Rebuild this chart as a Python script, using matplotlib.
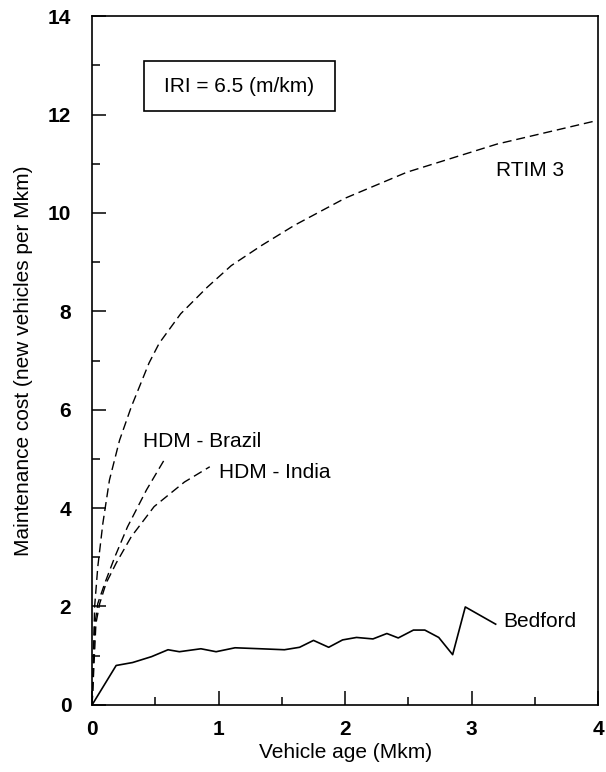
import matplotlib
matplotlib.use("Agg")
import matplotlib.pyplot as plt
from matplotlib.patches import Rectangle
from matplotlib.ticker import MultipleLocator

plt.rcParams["font.family"] = ["Liberation Sans", "DejaVu Sans"]

# Vehicle age (Mkm) vs maintenance cost (new vehicles per Mkm)
RTIM_X = [0.0, 0.02, 0.045, 0.085, 0.137, 0.217, 0.31, 0.45, 0.53, 0.70, 0.91,
          1.10, 1.34, 1.60, 2.00, 2.49, 3.20, 3.96]
RTIM_Y = [0.0, 2.00, 2.81, 3.69, 4.57, 5.38, 6.06, 6.95, 7.35, 7.95, 8.49,
          8.93, 9.34, 9.75, 10.30, 10.83, 11.40, 11.86]

BRAZIL_X = [0.0, 0.02, 0.045, 0.10, 0.18, 0.28, 0.43, 0.577]
BRAZIL_Y = [0.0, 1.60, 2.06, 2.47, 3.01, 3.62, 4.37, 5.01]

INDIA_X = [0.0, 0.03, 0.06, 0.11, 0.19, 0.31, 0.49, 0.73, 0.93]
INDIA_Y = [0.0, 1.65, 2.06, 2.47, 2.88, 3.42, 4.03, 4.53, 4.84]

BEDFORD_X = [0.0, 0.19, 0.32, 0.47, 0.60, 0.69, 0.86, 0.98, 1.13, 1.33, 1.52,
             1.64, 1.75, 1.87, 1.98, 2.09, 2.22, 2.33, 2.42, 2.54, 2.63, 2.74,
             2.85, 2.95, 3.19]
BEDFORD_Y = [0.0, 0.80, 0.86, 0.98, 1.12, 1.08, 1.14, 1.08, 1.16, 1.14, 1.12,
             1.17, 1.31, 1.17, 1.32, 1.37, 1.34, 1.45, 1.36, 1.52, 1.52, 1.37,
             1.02, 1.99, 1.64]

FS = 15

fig = plt.figure(figsize=(6.06, 7.72), dpi=100)
ax = fig.add_axes([0.152, 0.087, 0.835, 0.892])

dash = dict(color="black", linewidth=1.0, linestyle=(0, (6.5, 3.5)))
ax.plot(RTIM_X, RTIM_Y, **dash)
ax.plot(BRAZIL_X, BRAZIL_Y, **dash)
ax.plot(INDIA_X, INDIA_Y, **dash)
ax.plot(BEDFORD_X, BEDFORD_Y, color="black", linewidth=1.2)

ax.text(3.46, 10.86, "RTIM 3", fontsize=FS, ha="center", va="center")
ax.text(0.40, 5.35, "HDM - Brazil", fontsize=FS, ha="left", va="center")
ax.text(1.00, 4.72, "HDM - India", fontsize=FS, ha="left", va="center")
ax.text(3.25, 1.70, "Bedford", fontsize=FS, ha="left", va="center")

ax.add_patch(Rectangle((0.41, 12.08), 1.51, 1.0, fill=False,
                       edgecolor="black", linewidth=1.2))
ax.text(1.165, 12.58, "IRI = 6.5 (m/km)", fontsize=FS, ha="center", va="center")

ax.set_xlim(0, 4)
ax.set_ylim(0, 14)
ax.xaxis.set_major_locator(MultipleLocator(1))
ax.xaxis.set_minor_locator(MultipleLocator(0.5))
ax.yaxis.set_major_locator(MultipleLocator(2))
ax.yaxis.set_minor_locator(MultipleLocator(1))
ax.tick_params(which="both", direction="in", width=1.1)
ax.tick_params(which="major", length=10, labelsize=15)
ax.tick_params(which="minor", length=6)
ax.tick_params(axis="y", which="major", pad=15)
ax.tick_params(axis="x", which="major", pad=11)
for lab in ax.get_xticklabels() + ax.get_yticklabels():
    lab.set_fontweight("bold")

for s in ax.spines.values():
    s.set_linewidth(1.2)

ax.set_xlabel("Vehicle age (Mkm)", fontsize=FS)
ax.set_ylabel("Maintenance cost (new vehicles per Mkm)", fontsize=FS)
ax.xaxis.set_label_coords(0.5, -0.056)
ax.yaxis.set_label_coords(-0.117, 0.5)

fig.savefig("out.png", dpi=100)
